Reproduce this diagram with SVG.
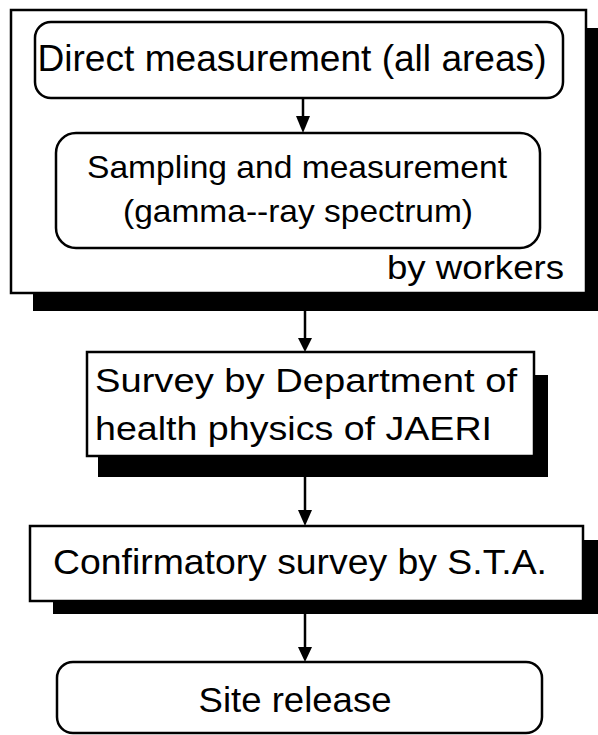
<svg xmlns="http://www.w3.org/2000/svg" width="598" height="735" viewBox="0 0 598 735">
<style>
.box{fill:#fff;stroke:#000;stroke-width:2.5}
.sh{fill:#000}
.t{font-family:"Liberation Sans",Arial,sans-serif;fill:#000}
.ln{stroke:#000;stroke-width:2.5;fill:none}
.hd{fill:#000}
</style>
<rect width="598" height="735" fill="#fff"/>
<g id="workers-group">
<path class="sh" d="M586,28 H598 V311 H33 V293 H586 Z"/>
<rect class="box" x="11" y="10" width="575" height="283"/>
<text class="t" x="564" y="279" font-size="34" text-anchor="end" textLength="177" lengthAdjust="spacingAndGlyphs">by workers</text>
</g>
<g id="direct">
<rect class="box" x="35" y="22" width="528" height="76" rx="16"/>
<text class="t" x="292" y="71" font-size="36" text-anchor="middle" textLength="509" lengthAdjust="spacingAndGlyphs">Direct measurement (all areas)</text>
</g>
<g id="sampling">
<rect class="box" x="56" y="133" width="484" height="115" rx="20"/>
<text class="t" x="297" y="178" font-size="32" text-anchor="middle" textLength="420" lengthAdjust="spacingAndGlyphs">Sampling and measurement</text>
<text class="t" x="298" y="222" font-size="32" text-anchor="middle" textLength="350" lengthAdjust="spacingAndGlyphs">(gamma--ray spectrum)</text>
</g>
<g id="jaeri">
<path class="sh" d="M534,375 H548 V477 H98 V456 H534 Z"/>
<rect class="box" x="87" y="352" width="447" height="104"/>
<text class="t" x="95" y="392" font-size="34" textLength="422" lengthAdjust="spacingAndGlyphs">Survey by Department of</text>
<text class="t" x="95" y="440" font-size="34" textLength="397" lengthAdjust="spacingAndGlyphs">health physics of JAERI</text>
</g>
<g id="sta">
<path class="sh" d="M583,540 H598 V614 H53 V601 H583 Z"/>
<rect class="box" x="30" y="526" width="553" height="75"/>
<text class="t" x="53" y="574" font-size="35" textLength="494" lengthAdjust="spacingAndGlyphs">Confirmatory survey by S.T.A.</text>
</g>
<g id="release">
<rect class="box" x="57" y="662" width="485" height="71" rx="16"/>
<text class="t" x="295" y="712" font-size="35" text-anchor="middle" textLength="193" lengthAdjust="spacingAndGlyphs">Site release</text>
</g>
<g id="connectors">
<line class="ln" x1="303" y1="98" x2="303" y2="118"/>
<polygon class="hd" points="296,116 310,116 303,133"/>
<line class="ln" x1="305" y1="311" x2="305" y2="340"/>
<polygon class="hd" points="298,338 312,338 305,352"/>
<line class="ln" x1="305" y1="477" x2="305" y2="512"/>
<polygon class="hd" points="298,510 312,510 305,526"/>
<line class="ln" x1="305" y1="614" x2="305" y2="649"/>
<polygon class="hd" points="298,647 312,647 305,662"/>
</g>
</svg>
